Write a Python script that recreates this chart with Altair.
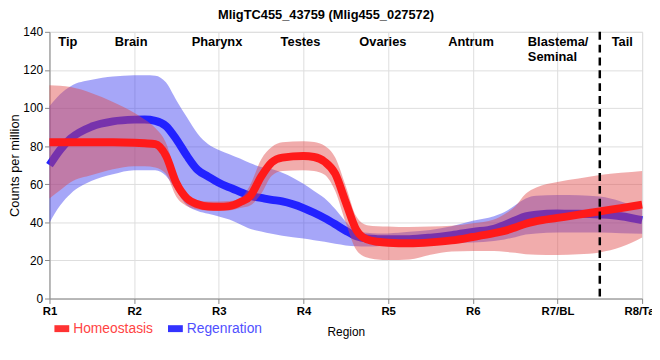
import altair as alt
import pandas as pd

# ---- data ----
X = [1.0, 1.125, 1.25, 1.5, 1.75, 2.0, 2.125, 2.25, 2.375, 2.5, 2.625, 2.75, 2.875,
     3.0, 3.125, 3.25, 3.375, 3.5, 3.625, 3.75, 4.0, 4.125, 4.25, 4.375, 4.5, 4.625,
     4.75, 4.875, 5.0, 5.25, 5.5, 5.75, 6.0, 6.25, 6.375, 6.5, 6.625, 6.75, 7.0, 7.25,
     7.5, 7.75, 8.0]

HOMEO = [82.0, 82.0, 82.0, 82.0, 82.0, 81.8, 81.5, 81.0, 75.0, 60.5, 52.5, 49.5, 48.3,
         48.2, 48.5, 50.5, 54.0, 64.0, 71.5, 74.0, 74.8, 74.3, 71.8, 65.5, 50.5, 36.0,
         31.0, 29.8, 29.3, 29.0, 29.5, 30.5, 32.3, 34.3, 35.5, 37.3, 39.3, 40.6, 42.3, 44.0,
         45.8, 47.5, 49.3]
HOMEO_HI = [112.0, 111.7, 111.0, 107.8, 103.2, 97.5, 94.0, 89.5, 81.8, 64.5, 54.0, 51.5, 51.0,
            51.0, 51.2, 52.5, 60.0, 73.0, 79.5, 82.0, 82.6, 82.2, 80.2, 74.0, 59.0, 43.0,
            38.5, 38.0, 37.8, 37.5, 37.8, 38.2, 39.5, 41.5, 44.3, 48.3, 55.0, 58.3, 61.2, 63.0,
            64.8, 66.0, 67.0]
HOMEO_LO = [52.5, 56.8, 61.0, 64.8, 67.9, 69.5, 69.5, 68.8, 65.5, 53.3, 48.5, 46.8, 46.2,
            46.0, 46.2, 47.5, 49.0, 55.0, 64.5, 67.0, 67.4, 67.0, 65.0, 56.5, 39.8, 25.5,
            21.5, 20.5, 20.2, 20.5, 23.0, 24.7, 25.0, 25.0, 24.5, 24.0, 23.3, 23.0, 22.8, 23.2,
            24.2, 27.0, 32.0]

REGEN = [70.0, 78.0, 84.0, 90.3, 93.0, 93.9, 94.0, 93.3, 90.6, 83.5, 74.8, 67.5, 64.0,
         60.8, 58.3, 56.0, 53.8, 52.8, 51.8, 51.0, 47.5, 45.0, 42.2, 39.0, 35.6, 32.7,
         31.5, 31.2, 31.1, 31.2, 32.0, 33.3, 35.0, 36.6, 38.7, 41.0, 43.2, 44.0, 44.6, 44.5,
         44.1, 43.2, 41.1]
REGEN_HI = [101.0, 107.3, 111.5, 114.8, 116.5, 117.2, 117.2, 117.0, 113.5, 104.0, 95.0, 86.5, 81.0,
            78.0, 75.8, 73.5, 71.0, 69.0, 68.0, 66.0, 60.2, 56.5, 52.7, 47.0, 40.3, 35.5,
            34.5, 34.2, 34.2, 35.0, 36.0, 38.0, 40.8, 43.2, 45.4, 49.0, 52.5, 53.9, 54.4, 54.2,
            53.6, 51.0, 46.7]
REGEN_LO = [39.8, 48.8, 55.0, 61.8, 65.3, 67.4, 67.4, 67.4, 64.5, 56.5, 48.8, 46.0, 44.5,
            43.1, 41.5, 39.0, 36.5, 35.2, 34.0, 33.0, 31.5, 30.6, 29.8, 28.7, 27.9, 27.4,
            27.3, 27.5, 27.8, 28.3, 28.8, 29.1, 29.4, 30.2, 31.0, 32.2, 33.6, 34.2, 34.6, 34.6,
            34.6, 34.3, 34.0]

TICK_LABELS = ["R1", "R2", "R3", "R4", "R5", "R6", "R7/BL", "R8/Tail"]
Y_TICKS = [0, 20, 40, 60, 80, 100, 120, 140]
REGION_NAMES = ["Tip", "Brain", "Pharynx", "Testes", "Ovaries", "Antrum", "Blastema/\nSeminal", "Tail"]
REGION_X = [1.105, 1.77, 2.68, 3.73, 4.66, 5.71, 6.65, 7.64]
REGION_Y = 132.7
DIVIDER_X = [7.5]
TITLE = "MligTC455_43759 (Mlig455_027572)"
SERIES = ["Homeostasis", "Regenration"]

FONT = "Liberation Sans"
RED = "#ff1a1a"
BLUE = "#2222ff"

df = pd.DataFrame({"x": X, "h": HOMEO, "h_hi": HOMEO_HI, "h_lo": HOMEO_LO,
                   "r": REGEN, "r_hi": REGEN_HI, "r_lo": REGEN_LO})

label_expr = "[" + ",".join("'%s'" % t for t in TICK_LABELS) + "][round(datum.value) - 1]"

xscale = alt.Scale(domain=[1, 8], nice=False, zero=False)
xaxis = alt.Axis(values=list(range(1, 9)), labelExpr=label_expr, title="Region",
                 labelFlush=False, labelOverlap=False, labelFontWeight="bold",
                 labelFontSize=11.5, titleFontWeight="normal", titleFontSize=12,
                 titlePadding=10)
yscale = alt.Scale(domain=[0, 140], nice=False)
yaxis = alt.Axis(values=Y_TICKS, title="Counts per million",
                 titleFontWeight="normal", titleFontSize=13, titleX=-28, titleY=135,
                 labelFontSize=12, labelOverlap=False)


def X_(f):
    return alt.X(f, scale=xscale, axis=xaxis)


def Y_(f):
    return alt.Y(f, scale=yscale, axis=yaxis)


base = alt.Chart(df)

blue_band = base.mark_area(color="#3a3af0", opacity=0.45, interpolate="monotone").encode(
    x=X_("x:Q"), y=Y_("r_lo:Q"), y2="r_hi:Q")
blue_line = base.mark_line(color=BLUE, strokeWidth=8, interpolate="monotone").encode(
    x=X_("x:Q"), y=Y_("r:Q"))
red_band = base.mark_area(color="#e04848", opacity=0.45, interpolate="monotone").encode(
    x=X_("x:Q"), y=Y_("h_lo:Q"), y2="h_hi:Q")
red_line = base.mark_line(color=RED, strokeWidth=8, interpolate="monotone").encode(
    x=X_("x:Q"), y=Y_("h:Q"))

divider = alt.Chart(pd.DataFrame({"x": DIVIDER_X})).mark_rule(
    color="black", strokeWidth=2.5, strokeDash=[8, 5]).encode(
    x=X_("x:Q"), y=alt.value(0), y2=alt.value(270))

regions = alt.Chart(pd.DataFrame({"x": REGION_X, "name": REGION_NAMES,
                                  "y": [REGION_Y] * len(REGION_X)})).mark_text(
    align="left", baseline="alphabetic", font=FONT, fontSize=13, fontWeight="bold",
    lineBreak="\n", lineHeight=15, color="black").encode(
    x=X_("x:Q"), y=Y_("y:Q"), text="name:N")

one = pd.DataFrame({"a": [0]})
title = alt.Chart(one).mark_text(align="center", baseline="alphabetic", font=FONT,
                                 fontSize=13, fontWeight="bold", color="black",
                                 text=TITLE).encode(x=alt.value(280), y=alt.value(-13))

leg_red_box = alt.Chart(one).mark_rect(color="#ff3333").encode(
    x=alt.value(5), x2=alt.value(20), y=alt.value(297), y2=alt.value(304))
leg_red_txt = alt.Chart(one).mark_text(align="left", baseline="middle", font=FONT,
                                       fontSize=14, color="#ff4444", text=SERIES[0]).encode(
    x=alt.value(24), y=alt.value(301))
leg_blue_box = alt.Chart(one).mark_rect(color="#3333ff").encode(
    x=alt.value(120), x2=alt.value(135), y=alt.value(297), y2=alt.value(304))
leg_blue_txt = alt.Chart(one).mark_text(align="left", baseline="middle", font=FONT,
                                        fontSize=14, color="#5050ff", text=SERIES[1]).encode(
    x=alt.value(139), y=alt.value(301))

chart = alt.layer(blue_band, blue_line, red_band, red_line, divider, regions, title,
                  leg_red_box, leg_red_txt, leg_blue_box, leg_blue_txt).properties(
    width=600, height=270,
    padding={"left": 42, "top": 22, "right": 10, "bottom": 52},
    autosize=alt.AutoSizeParams(type="none"),
).configure_view(stroke="black", strokeWidth=1).configure_axis(
    labelFont=FONT, titleFont=FONT, labelColor="black", titleColor="black",
    domainColor="black", domainWidth=3, tickColor="black", tickSize=4, labelPadding=2,
    gridColor="#c8c8c8", gridWidth=1,
).configure(background="white")

chart.save("out.html", embed_options={"renderer": "svg", "actions": False})
